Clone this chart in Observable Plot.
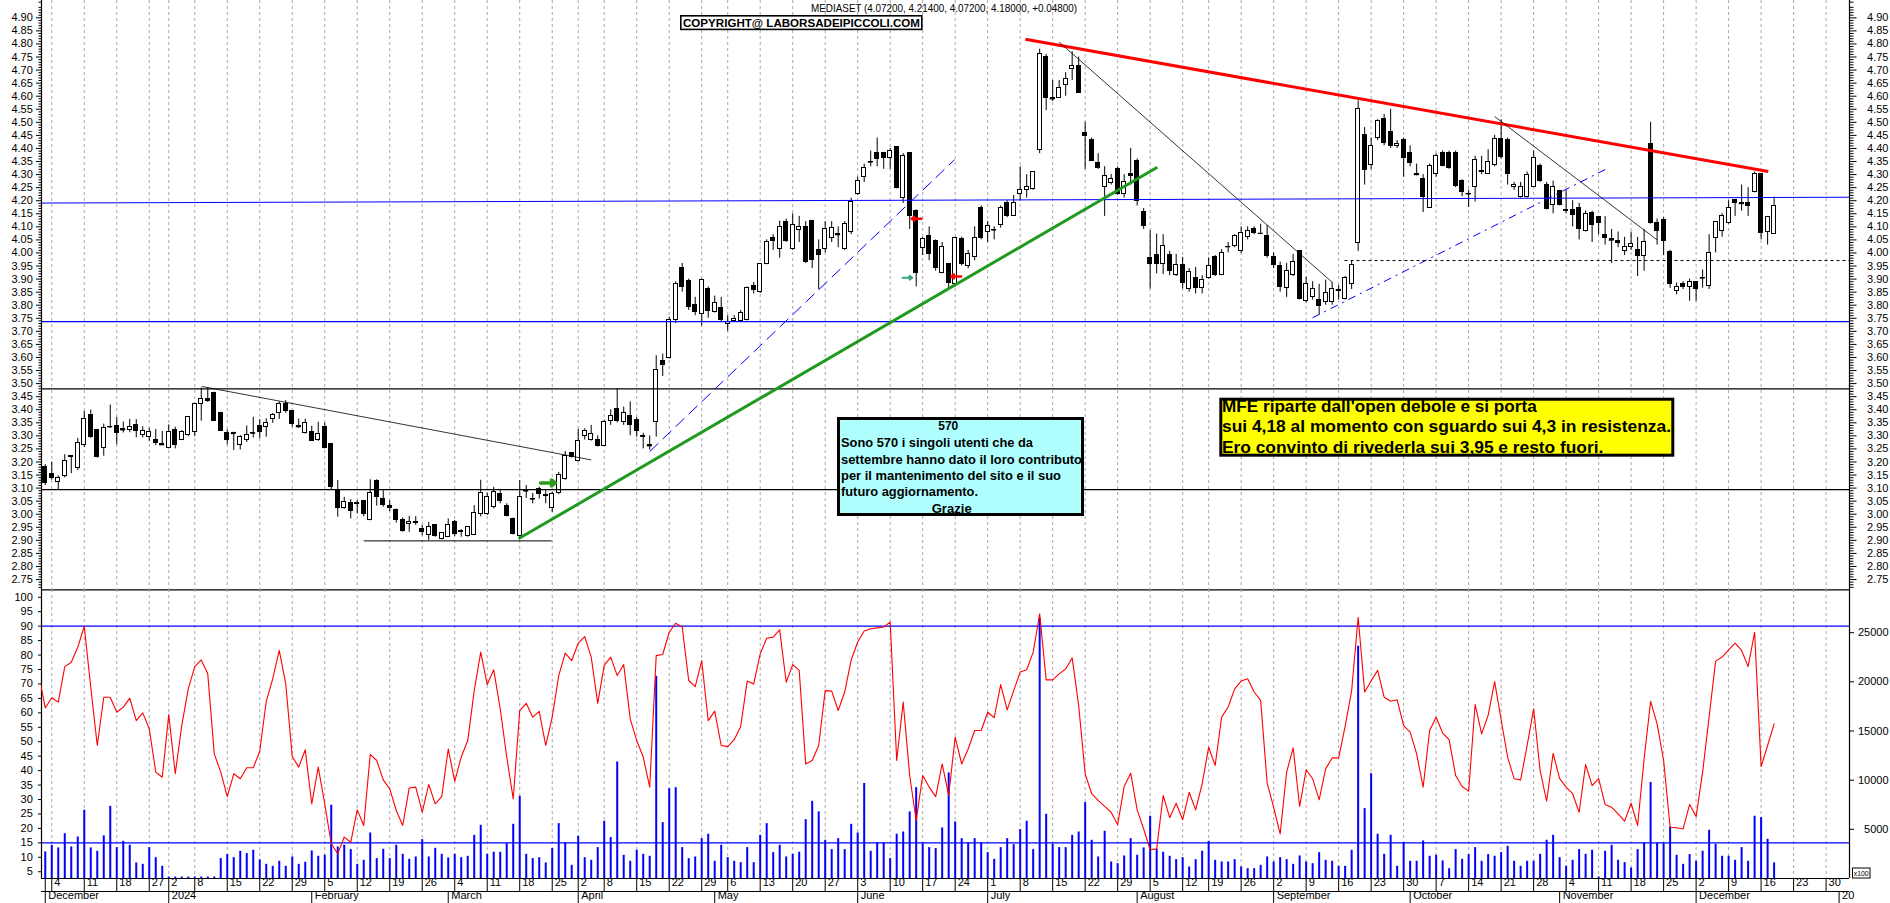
<!DOCTYPE html>
<html><head><meta charset="utf-8">
<script src="https://cdn.jsdelivr.net/npm/d3@7"></script>
<script src="https://cdn.jsdelivr.net/npm/@observablehq/plot@0.6"></script>
<style>
html,body{margin:0;padding:0;background:#fff;}
#chart{position:relative;width:1890px;height:903px;overflow:hidden;background:#fff;}
#chart > svg{position:absolute;left:0;}
</style></head><body><div id="chart"></div>
<script>
// ---------------- DATA ----------------
const holidays = ["2023-12-25","2023-12-26","2024-01-01","2024-03-29","2024-04-01","2024-05-01","2024-08-15"];
const firstDay = "2023-12-01";
const lastAxisDay = "2025-01-03";

const opens = [
3.18,3.155,3.122,3.145,3.218,3.177,3.265,3.381,3.323,3.254,
3.333,3.338,3.325,3.323,3.343,3.302,3.296,3.284,3.267,3.255,
3.324,3.284,3.302,3.316,3.422,3.441,3.465,3.389,3.312,3.31,
3.265,3.284,3.309,3.338,3.333,3.365,3.386,3.422,3.397,3.337,
3.311,3.316,3.284,3.333,3.269,3.088,3.024,3.042,3.04,3.051,
2.978,3.129,3.06,3.032,3.018,2.976,2.963,2.968,2.944,2.922,
2.957,2.905,2.912,2.969,2.937,2.915,2.922,3.0,3.0,3.027,
3.078,3.033,2.982,2.918,3.087,3.06,3.097,3.075,3.024,3.08,
3.135,3.233,3.205,3.301,3.284,3.284,3.263,3.356,3.403,3.352,
3.377,3.361,3.3,3.264,3.352,3.588,3.598,3.743,3.941,3.894,
3.8,3.766,3.862,3.775,3.79,3.73,3.738,3.741,3.743,3.872,
3.849,3.958,4.057,4.015,4.12,4.015,4.088,4.1,4.123,4.011,
4.015,4.057,4.073,4.015,4.079,4.225,4.292,4.35,4.382,4.381,
4.363,4.404,4.21,4.381,4.159,4.019,4.066,4.044,3.922,3.958,
3.881,4.053,3.951,3.983,4.172,4.079,4.087,4.108,4.193,4.142,
4.225,4.241,4.245,4.394,4.751,4.593,4.593,4.644,4.704,4.716,
4.461,4.432,4.344,4.251,4.266,4.321,4.225,4.304,4.353,4.158,
3.981,3.993,3.958,3.993,3.917,3.954,3.862,3.903,3.866,3.904,
3.983,3.917,4.022,4.028,4.006,4.06,4.091,4.075,4.066,3.983,
3.951,3.866,3.917,4.006,3.817,3.83,3.82,3.811,3.811,3.855,
3.824,3.881,4.038,4.451,4.336,4.44,4.512,4.464,4.408,4.432,
4.381,4.302,4.283,4.174,4.302,4.382,4.382,4.382,4.276,4.225,
4.251,4.311,4.304,4.338,4.436,4.432,4.251,4.215,4.215,4.251,
4.334,4.261,4.185,4.236,4.164,4.164,4.172,4.085,4.153,4.136,
4.068,4.053,4.047,4.006,4.021,4.011,3.989,4.417,4.113,4.127,
4.002,3.853,3.881,3.871,3.887,3.903,3.875,4.057,4.085,4.113,
4.202,4.19,4.193,4.232,4.302,4.079,4.072];
const highs = [
3.19,3.2,3.147,3.228,3.225,3.29,3.394,3.399,3.325,3.345,
3.418,3.37,3.353,3.363,3.362,3.335,3.329,3.324,3.317,3.342,
3.333,3.32,3.372,3.425,3.483,3.483,3.467,3.39,3.323,3.314,
3.301,3.338,3.371,3.362,3.365,3.386,3.43,3.435,3.397,3.364,
3.364,3.337,3.352,3.349,3.269,3.129,3.065,3.056,3.052,3.051,
3.132,3.132,3.09,3.052,3.02,2.986,2.992,2.991,2.957,2.969,
2.96,2.927,2.982,2.976,2.941,2.95,3.033,3.13,3.08,3.103,
3.09,3.04,2.985,3.129,3.11,3.08,3.103,3.09,3.085,3.16,
3.24,3.235,3.325,3.327,3.34,3.3,3.36,3.4,3.48,3.41,
3.43,3.37,3.31,3.3,3.607,3.613,3.754,3.89,3.96,3.9,
3.83,3.9,3.87,3.835,3.83,3.76,3.76,3.78,3.87,3.887,
3.96,4.05,4.07,4.122,4.13,4.15,4.14,4.12,4.125,4.05,
4.12,4.12,4.1,4.12,4.21,4.29,4.34,4.39,4.44,4.385,
4.4,4.405,4.38,4.385,4.165,4.06,4.1,4.05,4.04,3.96,
4.06,4.06,4.01,4.1,4.18,4.12,4.1,4.18,4.2,4.22,
4.33,4.3,4.31,4.78,4.76,4.66,4.66,4.69,4.77,4.75,
4.5,4.44,4.38,4.33,4.3,4.33,4.3,4.4,4.36,4.17,
4.085,4.072,4.07,4.006,3.995,3.983,3.94,3.945,3.913,3.981,
3.99,4.013,4.04,4.07,4.1,4.1,4.1,4.11,4.105,4.0,
3.965,3.96,3.995,4.01,3.907,3.89,3.88,3.896,3.887,3.875,
3.91,3.97,4.582,4.48,4.44,4.51,4.53,4.55,4.43,4.44,
4.41,4.34,4.3,4.34,4.38,4.39,4.39,4.39,4.28,4.24,
4.37,4.37,4.395,4.45,4.51,4.44,4.27,4.27,4.31,4.39,
4.34,4.27,4.275,4.24,4.24,4.2,4.19,4.16,4.16,4.14,
4.14,4.09,4.08,4.06,4.08,4.06,4.09,4.5,4.13,4.135,
4.01,3.885,3.89,3.9,3.89,3.935,4.07,4.12,4.15,4.2,
4.205,4.26,4.25,4.31,4.305,4.14,4.214];
const lows = [
3.11,3.13,3.094,3.139,3.155,3.167,3.256,3.29,3.215,3.222,
3.329,3.266,3.311,3.312,3.292,3.292,3.279,3.263,3.263,3.25,
3.25,3.282,3.297,3.297,3.356,3.428,3.356,3.318,3.266,3.244,
3.246,3.275,3.292,3.289,3.295,3.348,3.363,3.386,3.333,3.329,
3.307,3.279,3.279,3.25,3.094,2.989,3.019,2.982,3.001,2.99,
2.975,3.031,3.027,3.01,2.966,2.931,2.931,2.957,2.918,2.899,
2.912,2.902,2.912,2.915,2.912,2.912,2.918,2.99,2.995,3.02,
3.04,2.99,2.92,2.905,3.06,3.04,3.058,3.04,3.007,3.075,
3.13,3.215,3.2,3.284,3.28,3.257,3.26,3.34,3.35,3.34,
3.3,3.295,3.25,3.245,3.295,3.527,3.594,3.73,3.85,3.78,
3.76,3.72,3.75,3.77,3.735,3.7,3.735,3.735,3.74,3.843,
3.845,3.955,4.01,3.98,4.04,4.01,4.04,3.96,3.94,3.86,
4.0,4.04,4.02,4.01,4.07,4.22,4.27,4.33,4.33,4.32,
4.32,4.245,4.19,4.09,3.87,3.99,3.97,3.93,3.92,3.86,
3.87,3.95,3.94,3.97,4.05,4.04,4.05,4.095,4.135,4.14,
4.2,4.21,4.24,4.38,4.545,4.58,4.6,4.6,4.66,4.61,
4.32,4.35,4.32,4.14,4.26,4.22,4.21,4.26,4.18,4.09,
3.862,3.92,3.917,3.913,3.91,3.862,3.85,3.843,3.843,3.9,
3.91,3.913,4.0,4.02,3.998,4.05,4.07,4.07,3.98,3.94,
3.85,3.83,3.91,3.82,3.81,3.82,3.764,3.8,3.8,3.82,
3.82,3.86,4.006,4.26,4.32,4.43,4.41,4.4,4.4,4.29,
4.33,4.295,4.155,4.17,4.29,4.33,4.32,4.25,4.215,4.174,
4.195,4.3,4.3,4.33,4.36,4.26,4.24,4.21,4.21,4.25,
4.27,4.165,4.15,4.18,4.15,4.1,4.05,4.08,4.04,4.07,
4.03,3.96,4.02,3.99,4.01,3.91,3.93,4.11,4.03,3.99,
3.865,3.84,3.86,3.815,3.815,3.865,3.86,4.0,4.06,4.11,
4.14,4.16,4.14,4.23,4.05,4.03,4.072];
const closes = [
3.12,3.14,3.138,3.204,3.222,3.272,3.363,3.297,3.218,3.33,
3.335,3.31,3.323,3.334,3.317,3.32,3.313,3.274,3.266,3.315,
3.264,3.314,3.372,3.422,3.441,3.432,3.356,3.32,3.284,3.309,
3.296,3.305,3.31,3.314,3.349,3.38,3.422,3.397,3.346,3.335,
3.349,3.279,3.307,3.252,3.103,3.024,3.046,3.014,3.042,2.999,
3.081,3.067,3.036,3.022,2.978,2.935,2.972,2.97,2.931,2.95,
2.916,2.927,2.957,2.925,2.931,2.95,3.005,3.08,3.065,3.084,
3.052,2.995,2.925,3.065,3.089,3.058,3.076,3.07,3.078,3.152,
3.224,3.22,3.282,3.32,3.307,3.263,3.352,3.377,3.358,3.388,
3.343,3.318,3.298,3.262,3.552,3.571,3.743,3.88,3.871,3.795,
3.775,3.896,3.779,3.81,3.745,3.735,3.747,3.769,3.866,3.86,
3.958,4.043,4.044,4.098,4.047,4.107,4.098,3.965,3.973,3.993,
4.092,4.095,4.07,4.11,4.194,4.276,4.325,4.348,4.359,4.363,
4.389,4.248,4.372,4.142,3.922,4.053,3.996,3.942,4.021,3.884,
4.057,3.958,3.996,4.057,4.057,4.104,4.088,4.174,4.142,4.193,
4.242,4.251,4.308,4.761,4.593,4.59,4.633,4.665,4.716,4.614,
4.449,4.353,4.327,4.293,4.283,4.225,4.27,4.295,4.197,4.102,
3.958,3.958,4.028,3.932,3.954,3.884,3.926,3.866,3.896,3.951,
3.917,4.0,4.024,4.066,4.076,4.085,4.076,4.075,3.989,3.955,
3.868,3.932,3.964,3.824,3.881,3.862,3.798,3.845,3.862,3.857,
3.904,3.955,4.551,4.317,4.408,4.506,4.419,4.408,4.417,4.363,
4.344,4.3,4.213,4.334,4.37,4.334,4.327,4.255,4.232,4.226,
4.355,4.313,4.347,4.436,4.366,4.304,4.26,4.251,4.299,4.363,
4.274,4.168,4.251,4.185,4.159,4.146,4.092,4.149,4.108,4.115,
4.057,4.049,4.04,4.021,4.034,3.989,4.043,4.113,4.085,4.044,
3.881,3.871,3.871,3.887,3.862,3.904,3.998,4.118,4.142,4.172,
4.193,4.189,4.181,4.302,4.075,4.136,4.18];

// oscillator (left scale) – value of the session before the first one shown, then one per session
const rsiBefore = 73.2;
const rsi = [
61.7,65.2,63.7,76.0,77.5,82.7,89.9,68.9,48.7,65.4,
65.4,60.2,62.0,65.1,57.3,60.0,54.5,39.5,37.7,59.4,
38.9,55.6,68.3,76.0,78.3,73.5,45.8,39.5,31.0,38.9,
37.2,41.0,41.0,46.7,64.0,71.8,81.6,70.0,44.9,41.2,
47.2,28.5,41.2,28.5,14.7,11.2,17.0,15.2,26.4,21.0,
45.6,43.5,36.8,33.7,26.2,21.0,34.0,34.3,25.6,35.2,
28.5,31.0,47.5,36.3,44.7,50.4,67.7,81.0,69.8,74.9,
61.4,44.7,30.2,60.8,63.3,58.5,60.5,48.7,58.5,72.9,
80.7,78.1,84.1,86.4,79.3,63.3,76.4,79.3,72.9,76.7,
57.9,50.4,44.7,34.3,79.8,80.2,87.9,91.0,89.7,71.2,
69.1,78.1,57.3,60.6,48.7,48.3,50.7,55.3,71.0,70.0,
80.4,85.8,86.2,88.7,70.6,76.7,74.7,42.3,43.5,48.7,
67.7,67.5,60.8,67.2,78.3,84.5,88.3,89.1,89.4,89.7,
91.4,43.5,63.7,38.3,22.7,38.3,34.3,31.0,42.3,31.4,
51.6,42.3,47.5,53.9,53.9,60.2,58.3,69.8,61.0,67.7,
74.1,74.9,81.0,94.3,71.4,71.4,73.5,75.2,79.0,62.5,
38.9,32.0,29.7,27.6,25.6,21.3,34.5,39.1,26.4,19.8,
12.6,12.9,31.4,23.7,28.7,23.0,32.5,26.4,35.4,48.1,
41.8,58.5,62.0,68.3,71.0,71.8,67.2,64.3,35.7,27.3,
18.1,39.5,47.9,27.6,40.3,37.2,29.9,40.6,44.4,44.4,
55.3,67.7,93.1,67.2,71.0,74.7,65.4,64.0,64.5,55.6,
53.3,45.8,34.3,53.9,58.5,53.0,50.7,38.3,34.5,32.9,
62.9,52.7,59.1,70.8,57.6,44.7,37.2,36.8,48.7,61.4,
40.0,29.4,46.0,37.2,34.3,32.0,25.6,42.1,34.8,37.2,
28.3,27.3,25.0,22.5,28.7,21.0,44.1,64.0,56.2,43.5,
20.4,20.2,19.8,28.3,24.1,39.5,58.5,77.9,79.3,81.8,
84.1,81.6,76.0,87.9,41.4,48.7,56.2];

// volume (right scale, x100)
const volume = [
2700,3380,3110,4560,3210,4220,6940,3110,2770,4330,
7340,3140,3780,3380,1580,1440,3140,2120,1240,150,
150,150,150,150,150,150,150,2020,2430,2120,
2770,2530,2870,1890,1440,1240,1750,1240,2190,1440,
1650,2800,2260,2360,7450,3210,3380,2940,1440,1850,
4630,2020,2970,2020,3380,2460,1950,2190,3950,2190,
3070,2460,2090,2460,2120,2260,4390,5410,2460,2670,
2670,3550,5510,8360,2460,2020,2120,1580,3040,5580,
3610,1340,4290,2120,1850,3140,5820,4160,11850,2360,
1750,2870,2460,2260,20560,5680,9140,9240,3140,2020,
2190,4050,4500,1750,3380,2120,1750,1610,3140,1610,
4390,5580,2630,3380,2190,2460,2670,5990,7850,6770,
3890,2940,4050,2940,5510,4630,9660,2770,3610,3610,
2020,4500,4730,6770,9240,3550,3140,3040,5140,10740,
5750,4050,3610,4050,3610,2630,1950,3140,4050,3440,
4970,5820,2940,26430,6530,3480,3140,3140,4390,4730,
7720,3890,2190,4800,1680,1510,2290,4050,2360,3110,
6330,2970,2670,2260,1920,2120,1170,1920,2770,3780,
1850,1680,1680,1920,1170,1000,1000,1340,2190,1680,
2120,1920,1440,2290,1680,1510,2630,1850,1750,1240,
1240,2870,23620,7110,10660,4500,2460,4390,1240,3650,
1750,1750,3820,2260,2360,1780,1000,2940,1950,2430,
3140,1750,2430,2260,2630,3280,1750,1240,1750,1750,
2460,3890,4390,2120,1240,1850,2940,2460,2870,160,
2770,3380,1850,1610,1070,2940,3610,9760,3610,3550,
5240,2360,1440,2430,1750,2770,4900,3480,2260,2260,
1850,3140,1750,6330,6190,3990,1580];

// horizontal levels (price)
const levels = [{p:3.737,color:"#0000ff"},{p:3.4796,color:"#000000"},{p:3.0943,color:"#000000"}];
// drawn trend lines: session index / price
const trendLines = [
 {x1:-0.58,y1:4.1911,x2:277.6,y2:4.2133,color:"#0000ff",w:1},
 {x1:150.8,y1:4.818,x2:265.1,y2:4.312,color:"#ff0000",w:3},
 {x1:156.0,y1:4.807,x2:198.0,y2:3.888,color:"#000000",w:0.8},
 {x1:223.0,y1:4.522,x2:248.0,y2:4.050,color:"#000000",w:0.8},
 {x1:24.1,y1:3.489,x2:84.0,y2:3.208,color:"#000000",w:0.8},
 {x1:72.8,y1:2.906,x2:171.1,y2:4.328,color:"#1f9a1f",w:3},
 {x1:49.0,y1:2.898,x2:77.9,y2:2.898,color:"#000000",w:1},
 {x1:93.0,y1:3.240,x2:139.9,y2:4.357,color:"#0000ff",w:1,dash:"12,6"},
 {x1:195.0,y1:3.752,x2:240.7,y2:4.328,color:"#0000ff",w:1,dash:"8,5,2,5"},
 {x1:199.9,y1:3.971,x2:277.6,y2:3.971,color:"#000000",w:1,dash:"3,3"}
];
const arrows = [
 {x1:76.2,y1:3.12,x2:78.5,y2:3.12,color:"#2e9a1e",w:3.5},
 {x1:131.9,y1:3.905,x2:133.4,y2:3.905,color:"#3aa37a",w:2},
 {x1:134.8,y1:4.131,x2:133.3,y2:4.131,color:"#ff0000",w:2.5},
 {x1:140.9,y1:3.91,x2:139.4,y2:3.91,color:"#ff0000",w:2.5}
];
const oscLevels = [90, 15];
const monthNames = ["January","February","March","April","May","June","July","August","September","October","November","December"];

// ---------------- BUILD ----------------
const FONT = "Arial, 'Liberation Sans', Helvetica, sans-serif";
const fmt = d3.utcFormat("%Y-%m-%d");
const hol = new Set(holidays);
const days = [];
let d = d3.utcParse("%Y-%m-%d")(firstDay);
const endAxis = d3.utcParse("%Y-%m-%d")(lastAxisDay);
while (days.length < closes.length) {
  const w = d.getUTCDay();
  if (w > 0 && w < 6 && !hol.has(fmt(d))) days.push(d);
  d = d3.utcDay.offset(d, 1);
}
while (d <= endAxis) {          // beyond the data the axis runs on plain weekdays
  const w = d.getUTCDay();
  if (w > 0 && w < 6) days.push(d);
  d = d3.utcDay.offset(d, 1);
}
const xDomain = [-0.58, 277.6];
const inDom = i => i >= xDomain[0] && i <= xDomain[1];
const weekStarts = [], monthStarts = [];
days.forEach((dt, i) => {
  if (!inDom(i)) return;
  if (i > 0 && +d3.utcMonday.floor(dt) !== +d3.utcMonday.floor(days[i-1])) weekStarts.push({i, t: String(dt.getUTCDate())});
  if (i === 0 || dt.getUTCMonth() !== days[i-1].getUTCMonth()) {
    const m = dt.getUTCMonth();
    let t = m === 0 ? String(dt.getUTCFullYear()) : monthNames[m];
    if (i > 270) t = t.slice(0, 2);   // cut by the right edge in the original
    monthStarts.push({i, t});
  }
});
const weekIdx = weekStarts.map(w => w.i);

const candles = closes.map((c, i) => ({i, o: opens[i], h: highs[i], l: lows[i], c}));
const dojis = candles.filter(k => Math.abs(k.c - k.o) < 0.004);
const rsiRows = [{i: -1, v: rsiBefore}].concat(rsi.map((v, i) => ({i, v})));
const volRows = volume.map((v, i) => ({i, v}));

const priceDomain = [2.7119, 4.9663];
const rsiDomain = [2.66, 102.69];
const volDomain = [0, 29391];
const rsiAtPx = y => 90 - (y - 625.67) / 2.889;  // page px -> oscillator units (for axis rows below the panel)

const common = {
  width: 1890, marginLeft: 41, marginRight: 41,
  x: {type: "linear", domain: xDomain, axis: null},
  style: {background: "none", overflow: "visible", fontFamily: FONT, fontSize: "11px", color: "#000"}
};
const root = document.getElementById("chart");
function place(svg, top) { svg.style.top = top + "px"; svg.style.left = "0px"; root.appendChild(svg); }

const majorP = d3.range(275, 491, 5).map(v => v / 100);
const minorP = d3.range(272, 497).filter(v => v % 5 !== 0).map(v => v / 100);

// ---- price panel ----
const price = Plot.plot({
  ...common, height: 600, marginTop: 0, marginBottom: 11,
  y: {domain: priceDomain, axis: null, label: null},
  marks: [
    Plot.ruleX(weekIdx, {stroke: "#a8a8a8", strokeDasharray: "3,3", strokeWidth: 1}),
    Plot.ruleX(candles, {x: "i", y1: "l", y2: "h", stroke: "#000", strokeWidth: 1}),
    Plot.rect(candles, {x1: k => k.i - 0.3, x2: k => k.i + 0.3, y1: "o", y2: "c",
      fill: k => k.c >= k.o ? "#ffffff" : "#000000", stroke: "#000", strokeWidth: 1, shapeRendering: "crispEdges"}),
    Plot.ruleY(dojis, {y: "c", x1: k => k.i - 0.38, x2: k => k.i + 0.38, stroke: "#000", strokeWidth: 1.2}),
    Plot.ruleY(levels, {y: "p", stroke: "color", strokeWidth: 1.2}),
    ...trendLines.map(t => Plot.link([t], {x1: "x1", y1: "y1", x2: "x2", y2: "y2", stroke: t.color, strokeWidth: t.w, strokeDasharray: t.dash})),
    ...arrows.map(a => Plot.arrow([a], {x1: "x1", y1: "y1", x2: "x2", y2: "y2", stroke: a.color, strokeWidth: a.w, headLength: 7, headAngle: 70})),
    Plot.ruleY([priceDomain[0] - 0.3 / 261.26], {stroke: "#000", strokeWidth: 1.2}),
    Plot.ruleX([xDomain[0], xDomain[1]], {stroke: "#000", strokeWidth: 1.2}),
    Plot.axisY({anchor: "left", ticks: minorP, tickSize: 2.5, tickFormat: () => "", label: null}),
    Plot.axisY({anchor: "left", ticks: majorP, tickSize: 5, tickPadding: 3.7, tickFormat: ".2f", label: null, fontSize: 11}),
    Plot.axisY({anchor: "right", ticks: minorP, tickSize: 3.5, tickFormat: () => "", label: null}),
    Plot.axisY({anchor: "right", ticks: majorP, tickSize: 6.5, tickPadding: 32.5, textAnchor: "end", tickFormat: ".2f", label: null, fontSize: 11})
  ]
});
place(price, 0);

// ---- lower panel: grid, levels, axes ----
const lowerA = Plot.plot({
  ...common, height: 314, marginTop: 0, marginBottom: 25,
  y: {domain: rsiDomain, axis: null, label: null},
  marks: [
    Plot.ruleX(weekIdx, {stroke: "#a8a8a8", strokeDasharray: "3,3", strokeWidth: 1}),
    Plot.ruleY(oscLevels, {stroke: "#0000ff", strokeWidth: 1.2}),
    Plot.ruleX([xDomain[0], xDomain[1]], {stroke: "#000", strokeWidth: 1.2}),
    Plot.ruleY([rsiDomain[0]], {stroke: "#000", strokeWidth: 1.2}),
    Plot.axisY({anchor: "left", ticks: d3.range(5, 101, 5), tickSize: 3, tickPadding: 5.7, label: null, fontSize: 11}),
    // date axis rows
    Plot.ruleX([0].concat(weekIdx), {y1: rsiAtPx(878), y2: rsiAtPx(891), stroke: "#000", strokeWidth: 1}),
    Plot.ruleX(monthStarts, {x: "i", y1: rsiAtPx(891), y2: rsiAtPx(903), stroke: "#000", strokeWidth: 1}),
    Plot.ruleY([rsiAtPx(891)], {stroke: "#000", strokeWidth: 1.2}),
    Plot.text(weekStarts, {x: "i", text: "t", frameAnchor: "bottom", dy: 7.5, dx: 2.5, textAnchor: "start", fontSize: 11, fill: "#000"}),
    Plot.text(monthStarts, {x: "i", text: "t", frameAnchor: "bottom", dy: 20.5, dx: 3, textAnchor: "start", fontSize: 11, fill: "#000"})
  ]
});
place(lowerA, 589);

// ---- lower panel: volume ----
const lowerB = Plot.plot({
  ...common, height: 314, marginTop: 0, marginBottom: 25,
  y: {domain: volDomain, axis: null, label: null},
  marks: [
    Plot.ruleX(volRows, {x: "i", y1: 0, y2: "v", stroke: "#0000ff", strokeWidth: 2}),
    Plot.axisY({anchor: "right", ticks: d3.range(5000, 25001, 5000), tickSize: 4, tickPadding: 35, textAnchor: "end", tickFormat: d => String(d), label: null, fontSize: 11})
  ]
});
place(lowerB, 589);

// ---- lower panel: oscillator line ----
const lowerC = Plot.plot({
  ...common, height: 314, marginTop: 0, marginBottom: 25,
  y: {domain: rsiDomain, axis: null, label: null},
  marks: [
    Plot.line(rsiRows, {x: "i", y: "v", stroke: "#ff0000", strokeWidth: 1.1, clip: true})
  ]
});
place(lowerC, 589);

// ---------------- ANNOTATIONS ----------------
const ann = d3.create("svg").attr("width", 1890).attr("height", 903)
  .style("top", "0px").style("left", "0px").style("pointer-events", "none").style("font-family", FONT);
function label(x, y, s, size, weight, len, anchor) {
  const t = ann.append("text").attr("x", x).attr("y", y).text(s)
    .attr("font-size", size).attr("font-weight", weight || "normal").attr("fill", "#000")
    .attr("text-anchor", anchor || "start");
  if (len) t.attr("textLength", len).attr("lengthAdjust", "spacingAndGlyphs");
  return t;
}
label(811, 12.3, "MEDIASET (4.07200, 4.21400, 4.07200, 4.18000, +0.04800)", 11, "normal", 266);
ann.append("rect").attr("x", 680.8).attr("y", 15.8).attr("width", 241).attr("height", 13.6)
  .attr("fill", "#fff").attr("stroke", "#000").attr("stroke-width", 1.6);
label(683, 26.6, "COPYRIGHT@ LABORSADEIPICCOLI.COM", 11, "bold", 237);

// cyan note
ann.append("rect").attr("x", 838.5).attr("y", 418.5).attr("width", 244).attr("height", 96)
  .attr("fill", "#b0ffff").attr("stroke", "#000").attr("stroke-width", 3);
label(948.3, 429.5, "570", 12, "bold", 20, "middle");
label(841, 447, "Sono 570 i singoli utenti che da", 12, "bold", 192);
label(841, 463.5, "settembre hanno dato il loro contributo", 12, "bold", 241);
label(841, 480, "per il mantenimento  del sito e il suo", 12, "bold", 220);
label(841, 496.3, "futuro aggiornamento.", 12, "bold", 137);
label(951.7, 512.5, "Grazie", 12, "bold", 40, "middle");

// yellow note
ann.append("rect").attr("x", 1220.8).attr("y", 399.2).attr("width", 452).attr("height", 56)
  .attr("fill", "#ffff00").attr("stroke", "#000").attr("stroke-width", 3);
label(1222, 411.6, "MFE riparte dall'open debole e si porta", 16, "bold", 314.7);
label(1222, 432.2, "sui 4,18 al momento con sguardo sui 4,3 in resistenza.", 16, "bold", 449);
label(1222, 452.6, "Ero convinto di rivederla sui 3,95 e resto fuori.", 16, "bold", 381.3);

// volume multiplier tag
ann.append("rect").attr("x", 1852.5).attr("y", 868).attr("width", 17.5).attr("height", 10)
  .attr("fill", "#fff").attr("stroke", "#000").attr("stroke-width", 1);
label(1861.2, 876, "x100", 7.5, "normal", 15, "middle");
place(ann.node(), 0);
</script></body></html>
